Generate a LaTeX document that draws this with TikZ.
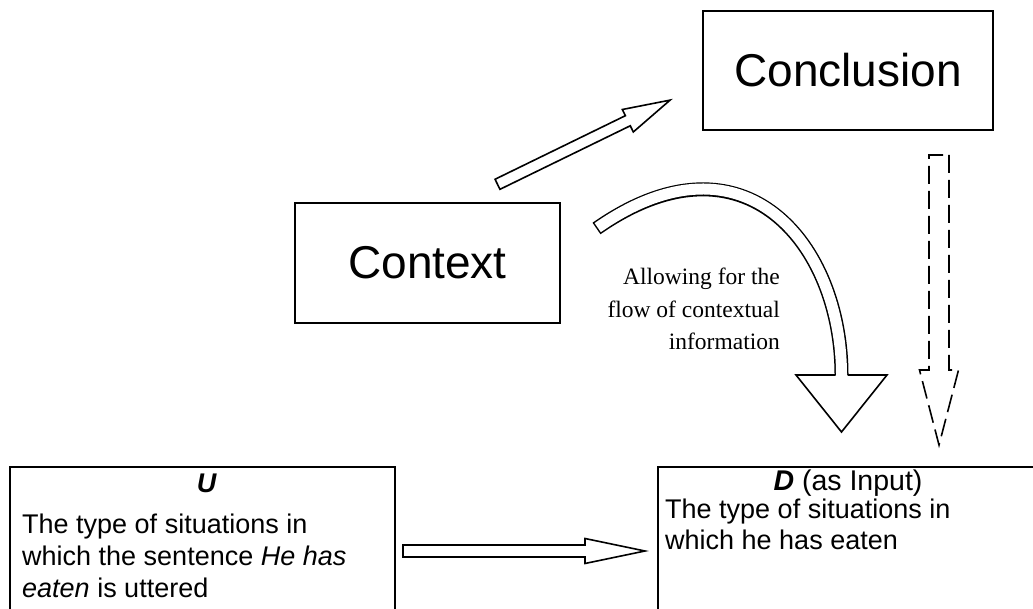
\documentclass[tikz,border=0pt]{standalone}
\usepackage{fontspec}
\setmainfont{Liberation Sans}
\newfontfamily\notefont{Liberation Serif}

% hollow block arrow: options, tail, angle, length, shaft half-width, head half-width, head length
\newcommand{\blockarrow}[7]{%
  \begin{scope}[shift={#2}, rotate=#3]
    \draw[#1] (0,-#5) -- ({#4-#7},-#5) -- ({#4-#7},-#6) -- (#4,0)
      -- ({#4-#7},#6) -- ({#4-#7},#5) -- (0,#5) -- cycle;
  \end{scope}}

\begin{document}
\begin{tikzpicture}[x=1pt, y=-1pt,
  box/.style={draw, line width=2pt, inner sep=0pt},
  big/.style={font=\fontsize{46}{52}\selectfont},
  body/.style={font=\fontsize{27}{32}\selectfont, inner sep=0pt},
  note/.style={font=\notefont\fontsize{23.5}{32}\selectfont, inner sep=0pt, anchor=base east},
  outline/.style={draw, line width=1.6pt, line join=miter}]
\useasboundingbox (0,0) rectangle (1033,609);
\clip (0,0) rectangle (1033,609);

% main boxes
\node[box, big, minimum width=290pt, minimum height=119pt] (conclusion) at (848,70.5) {Conclusion};
\node[box, big, minimum width=265pt, minimum height=120pt] (context) at (427.5,263) {Context};
\node[box, minimum width=385pt, minimum height=183pt] (ubox) at (202.5,558.5) {};
\node[box, minimum width=382pt, minimum height=183pt] (dbox) at (849,558.5) {};

% text of the U box
\node[body, anchor=base] (ulabel) at (207,492) {\textbf{\textit{U}}};
\node[body, anchor=base west] (uline1) at (22,533) {The type of situations in};
\node[body, anchor=base west] (uline2) at (22,565) {which the sentence \textit{He has}};
\node[body, anchor=base west] (uline3) at (22,597) {\textit{eaten} is uttered};

% text of the D box
\node[body, font=\fontsize{28.5}{32}\selectfont, anchor=base] (dlabel) at (848,490) {\textbf{\textit{D}} (as Input)};
\node[body, anchor=base west] (dline1) at (665,518) {The type of situations in};
\node[body, anchor=base west] (dline2) at (665,549) {which he has eaten};

% note beside the curved arrow
\node[note] (note1) at (780,285) {Allowing for the};
\node[note] (note2) at (780,318) {flow of contextual};
\node[note] (note3) at (780,350) {information};

% straight block arrows
\coordinate (diagTail) at (497.5,184.3);
\coordinate (flatTail) at (403,551);
\coordinate (dashTail) at (939,155);
\blockarrow{outline}{(diagTail)}{26}{192}{5.6}{12.5}{47}
\blockarrow{outline}{(flatTail)}{0}{242}{6}{12.5}{60}
\blockarrow{outline, dash pattern=on 18pt off 7pt}{(dashTail)}{-90}{290}{10}{19.5}{75}

% curved block arrow
\coordinate (curveStart) at (596.5,228.5);
\coordinate (curveEnd) at (841.5,375);
\draw[line width=14pt] (curveStart) .. controls (745,125) and (841.5,245) .. (curveEnd);
\draw[white, line width=11pt, shorten <=1.5pt] (curveStart) .. controls (745,125) and (841.5,245) .. (curveEnd);
\fill[white] (796,375) -- (841.5,432) -- (887,375) -- cycle;
\draw[outline] (835.5,375) -- (796,375) -- (841.5,432) -- (887,375) -- (847.5,375);
\end{tikzpicture}
\end{document}
